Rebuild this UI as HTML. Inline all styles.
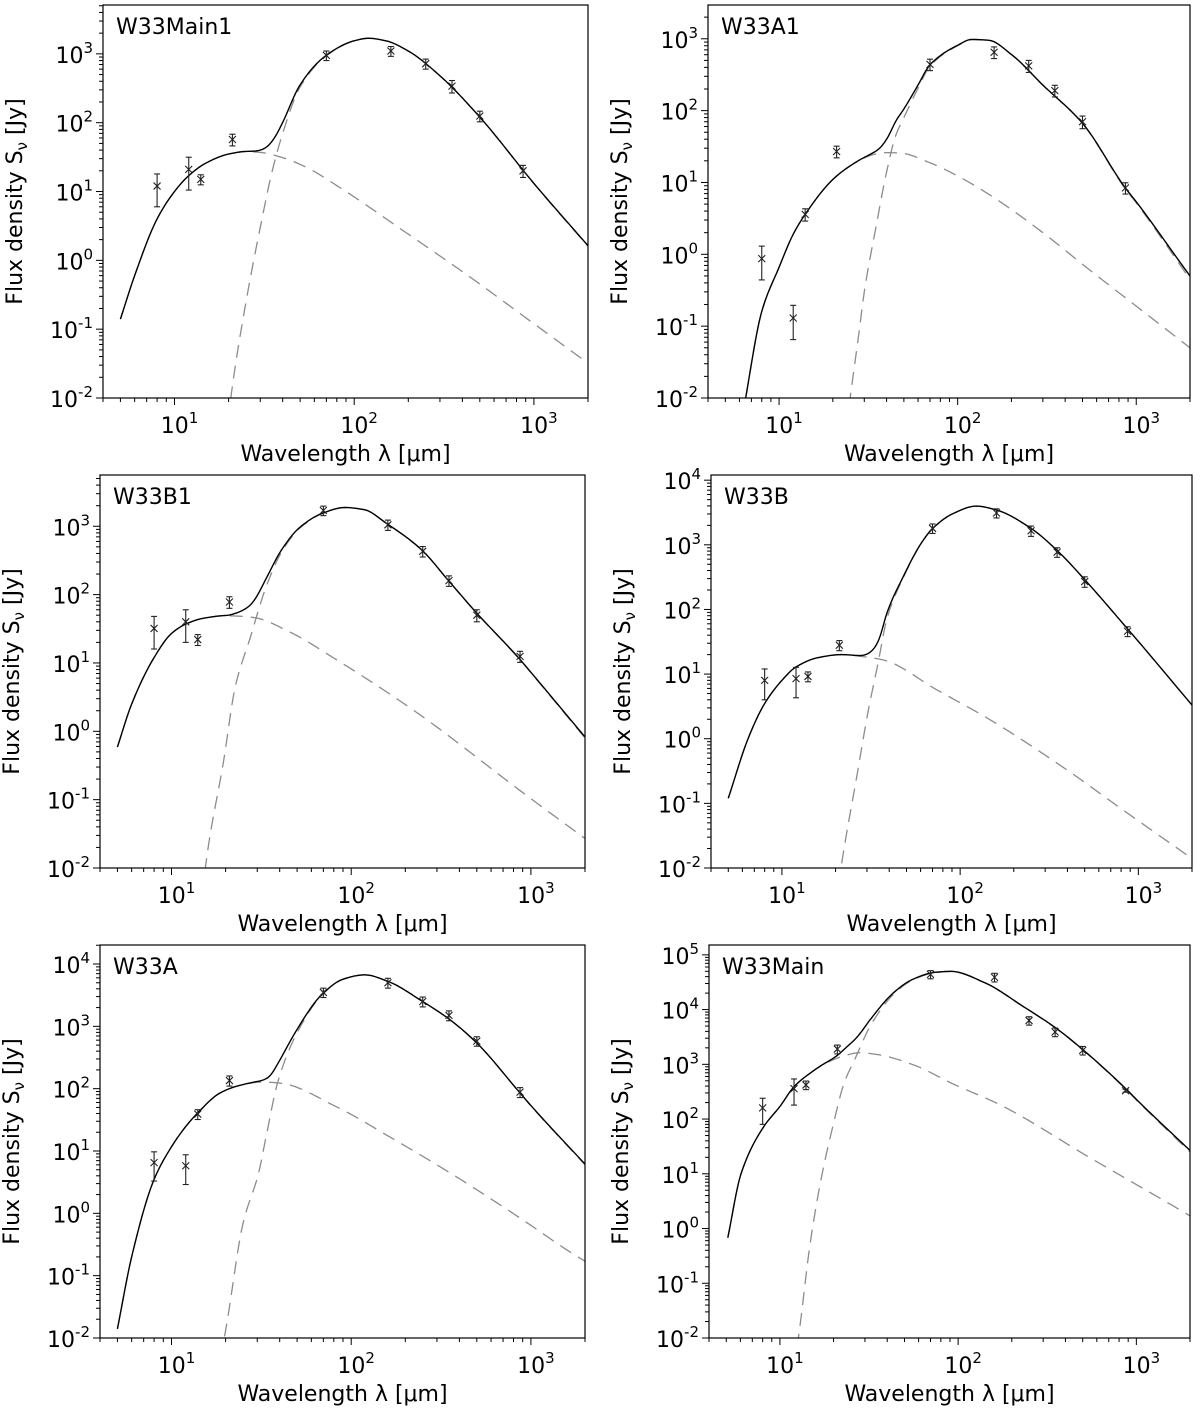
<!DOCTYPE html>
<html><head><meta charset="utf-8">
<style>
html,body{margin:0;padding:0;background:#fff;}
svg{display:block;font-family:"DejaVu Sans","Liberation Sans",sans-serif;}
</style></head>
<body>
<svg id="fig" width="1200" height="1409" viewBox="0 0 1200 1409" xmlns="http://www.w3.org/2000/svg"></svg>
<script>
// ---- shared data ----
const bandLam = [8, 12, 14, 21, 70, 160, 250, 350, 500, 870];
const panelNames = ["W33Main1", "W33A1", "W33B1", "W33B", "W33A", "W33Main"];

// W33Main1
const p1Flux = [12, 21, 15, 57, 950, 1100, 720, 340, 125, 20];
const p1Err = [6, 10.5, 2.5, 11, 150, 180, 120, 70, 22, 4];
const p1WarmLam = [5, 6, 8, 10, 12, 15, 20, 25, 30, 40, 55, 82, 200, 442, 1000, 2000];
const p1WarmFlux = [0.14, 0.6, 4, 10, 17, 26, 35, 38, 37, 31, 22, 11.7, 2.4, 0.57, 0.12, 0.032];
const p1ColdLam = [18, 21, 25, 30, 35, 40, 50, 70, 100, 120, 150, 200, 300, 500, 1000, 2000];
const p1ColdFlux = [0.0005, 0.015, 0.25, 3, 20, 70, 330, 940, 1540, 1680, 1545, 1097, 479, 120, 13, 1.6];

// W33A1
const p2Flux = [0.87, 0.13, 3.6, 27, 440, 650, 420, 190, 70, 8.4];
const p2Err = [0.43, 0.065, 0.7, 5, 80, 120, 80, 35, 14, 1.5];
const p2WarmLam = [5.5, 6.5, 8, 10, 12, 14, 20, 25, 30, 35, 40, 47.5, 70, 100, 146, 200, 300, 551, 1000, 2000];
const p2WarmFlux = [0.0008, 0.01, 0.16, 0.66, 1.9, 3.6, 11, 17, 22, 25, 26, 25.7, 18.8, 12.3, 7.1, 4.2, 2.0, 0.6, 0.19, 0.05];
const p2ColdLam = [22, 25, 28, 30, 35, 40, 45, 50, 60, 70, 100, 120, 150, 200, 300, 500, 870, 1000, 2000];
const p2ColdFlux = [0.0008, 0.01, 0.08, 0.3, 2.5, 14, 45, 80, 205, 415, 800, 970, 945, 600, 225, 66, 8.1, 5.2, 0.45];

// W33B1
const p3Flux = [32, 40, 22, 78, 1700, 1050, 430, 160, 50, 12.5];
const p3Err = [16, 20, 4, 15, 270, 180, 75, 28, 10, 2.3];
const p3WarmLam = [5, 6, 8, 10, 12, 15, 20, 25, 29, 46, 83, 150, 251, 904, 2000];
const p3WarmFlux = [0.59, 2.5, 12, 27, 37, 45, 49, 48, 46, 28, 11.1, 4.1, 1.62, 0.126, 0.027];
const p3ColdLam = [14, 15.8, 19.5, 22.6, 27.5, 33.5, 41, 52, 70, 92, 118, 158, 246, 346, 494, 860, 1000, 2000];
const p3ColdFlux = [0.001, 0.016, 0.37, 4.4, 24, 127, 420, 950, 1555, 1873, 1745, 1087, 453, 162, 55, 11.5, 7.2, 0.8];

// W33B
const p4Flux = [8, 8.5, 9.2, 28, 1800, 3100, 1650, 770, 270, 46];
const p4Err = [4, 4.2, 1.6, 5, 300, 500, 300, 130, 50, 8];
const p4WarmLam = [5, 6.5, 8, 10, 12, 16, 21.6, 29, 36.9, 74, 147, 400, 820, 2000];
const p4WarmFlux = [0.12, 1.05, 3.5, 8, 12.9, 18, 20, 18.5, 16.6, 5.7, 1.97, 0.325, 0.079, 0.014];
const p4ColdLam = [19, 22.1, 26.3, 30.5, 34.5, 39, 47.7, 61, 70, 91, 123, 160, 251, 357, 504, 870, 1000, 2000];
const p4ColdFlux = [0.001, 0.017, 0.26, 2.7, 14, 75, 300, 1090, 1775, 3025, 3965, 3447, 1779, 775, 282, 50, 32, 3.3];

// W33A
const p5Flux = [6.5, 5.8, 39, 135, 3500, 5000, 2500, 1500, 580, 88];
const p5Err = [3.2, 2.9, 7, 25, 600, 900, 450, 270, 100, 16];
const p5WarmLam = [5, 6, 8, 10, 12, 13.9, 18.6, 23.8, 32, 40, 83, 164, 388, 904, 1650, 2000];
const p5WarmFlux = [0.014, 0.2, 3.5, 11.7, 24.7, 40, 85, 112, 128, 123, 51, 16.8, 3.8, 0.78, 0.24, 0.17];
const p5ColdLam = [17, 20.3, 25, 30.5, 33.6, 39, 50, 70, 90.5, 119, 160, 250, 354, 500, 860, 1000, 2000];
const p5ColdFlux = [0.001, 0.017, 0.69, 4.4, 17, 127, 790, 3360, 5695, 6670, 5250, 2490, 1275, 538, 88, 53, 6.0];

// W33Main
const p6Flux = [160, 360, 420, 1900, 44000, 39000, 6300, 3900, 1800, 330];
const p6Err = [80, 180, 75, 350, 7500, 7000, 1100, 700, 320, 20];
const p6WarmLam = [5.1, 6.05, 8.1, 10, 12, 14.7, 17.9, 21.8, 28, 35.6, 56, 94, 172, 550, 1760, 2000];
const p6WarmFlux = [0.68, 10, 72, 170, 390, 680, 1030, 1350, 1630, 1500, 980, 436, 182, 19.6, 2.18, 1.7];
const p6ColdLam = [11.5, 13, 14.7, 17, 19.8, 22.9, 26.5, 32.3, 43.4, 55.5, 74.5, 91, 141, 231, 357, 500, 880, 1000, 2000];
const p6ColdFlux = [0.001, 0.018, 0.47, 7.8, 73, 450, 1300, 5150, 19000, 34600, 47400, 49500, 30750, 11390, 4455, 1840, 341, 223, 25];

// ---- layout (not data) ----
const layout = [
  {l:103, r:588, t:5,   b:398,  ymin:-2, ymax:3.71},
  {l:708, r:1190, t:5,  b:398,  ymin:-2, ymax:3.47},
  {l:100, r:585, t:475, b:868,  ymin:-2, ymax:3.75},
  {l:711, r:1192, t:475, b:868, ymin:-2, ymax:4.08},
  {l:100, r:585, t:945, b:1338, ymin:-2, ymax:4.305},
  {l:709, r:1190, t:945, b:1338, ymin:-2, ymax:5.18}
];
const XMIN = Math.log10(4), XMAX = Math.log10(2000);
const panels = [
  [p1Flux,p1Err,p1WarmLam,p1WarmFlux,p1ColdLam,p1ColdFlux],
  [p2Flux,p2Err,p2WarmLam,p2WarmFlux,p2ColdLam,p2ColdFlux],
  [p3Flux,p3Err,p3WarmLam,p3WarmFlux,p3ColdLam,p3ColdFlux],
  [p4Flux,p4Err,p4WarmLam,p4WarmFlux,p4ColdLam,p4ColdFlux],
  [p5Flux,p5Err,p5WarmLam,p5WarmFlux,p5ColdLam,p5ColdFlux],
  [p6Flux,p6Err,p6WarmLam,p6WarmFlux,p6ColdLam,p6ColdFlux]
];

const NS = "http://www.w3.org/2000/svg";
const svg = document.getElementById("fig");
function mk(tag, attrs, parent){
  const e = document.createElementNS(NS, tag);
  for (const k in attrs) e.setAttribute(k, attrs[k]);
  (parent||svg).appendChild(e);
  return e;
}
// monotone cubic (PCHIP) in log-log space
function makePchip(lams, vals){
  const x = lams.map(Math.log10), y = vals.map(Math.log10), n = x.length;
  const h=[], d=[];
  for (let i=0;i<n-1;i++){ h.push(x[i+1]-x[i]); d.push((y[i+1]-y[i])/h[i]); }
  const m = new Array(n);
  m[0]=d[0]; m[n-1]=d[n-2];
  for (let i=1;i<n-1;i++){
    if (d[i-1]*d[i]<=0) m[i]=0;
    else { const w1=2*h[i]+h[i-1], w2=h[i]+2*h[i-1]; m[i]=(w1+w2)/(w1/d[i-1]+w2/d[i]); }
  }
  return function(lam){
    const t0=Math.log10(lam);
    if (t0<x[0]) return null;
    if (t0>=x[n-1]) return Math.pow(10,y[n-1]);
    let i=0; while (i<n-2 && t0>x[i+1]) i++;
    const t=(t0-x[i])/h[i], t2=t*t, t3=t2*t;
    const v=(2*t3-3*t2+1)*y[i]+(t3-2*t2+t)*h[i]*m[i]+(-2*t3+3*t2)*y[i+1]+(t3-t2)*h[i]*m[i+1];
    return Math.pow(10,v);
  };
}

layout.forEach((L, pi) => {
  const [flux, err, wl, wf, cl, cf] = panels[pi];
  const sx = v => L.l + (Math.log10(v)-XMIN)/(XMAX-XMIN)*(L.r-L.l);
  const sy = v => L.b - (Math.log10(v)-L.ymin)/(L.ymax-L.ymin)*(L.b-L.t);
  const g = mk("g", {});
  
  
  const clipId = "clip"+pi;
  const cp = mk("clipPath", {id:clipId}, g);
  mk("rect", {x:L.l, y:L.t, width:L.r-L.l, height:L.b-L.t}, cp);
  const plot = mk("g", {"clip-path":"url(#"+clipId+")"}, g);
  
  

  const fw = makePchip(wl, wf), fc = makePchip(cl, cf);
  const N = 400;
  const samp = [];
  const a = Math.log10(wl[0]), b = Math.log10(2000);
  for (let k=0;k<=N;k++) samp.push(Math.pow(10, a+(b-a)*k/N));
  function pathFrom(fn){
    let d=""; let started=false;
    samp.forEach(l=>{ const v=fn(l); if (v===null||!(v>0)) return;
      d += (started?" L":"M")+sx(l).toFixed(2)+","+sy(v).toFixed(2); started=true; });
    return d;
  }
  const warm = mk("path", {d:pathFrom(fw), fill:"none", stroke:"#8c8c8c", "stroke-width":1.3, "stroke-dasharray":"13,8"}, plot);
  
  
  const cold = mk("path", {d:pathFrom(fc), fill:"none", stroke:"#8c8c8c", "stroke-width":1.3, "stroke-dasharray":"13,8"}, plot);
  
  
  const tot = mk("path", {d:pathFrom(l=>{ const w=fw(l)||0, c=fc(l)||0; return w+c; }), fill:"none", stroke:"#000", "stroke-width":1.4}, plot);
  
  

  // data points
  bandLam.forEach((l,i)=>{
    const x=sx(l), y=sy(flux[i]);
    const lo = Math.max(flux[i]-err[i], flux[i]*0.01);
    const y1=sy(flux[i]+err[i]), y2=sy(lo);
    const pg = mk("g", {stroke:"#222", "stroke-width":1.1, fill:"none"}, plot);
    
    
    mk("line", {x1:x, y1:y1, x2:x, y2:y2}, pg);
    mk("line", {x1:x-3, y1:y1, x2:x+3, y2:y1}, pg);
    mk("line", {x1:x-3, y1:y2, x2:x+3, y2:y2}, pg);
    mk("line", {x1:x-3.5, y1:y-3.5, x2:x+3.5, y2:y+3.5}, pg);
    mk("line", {x1:x-3.5, y1:y+3.5, x2:x+3.5, y2:y-3.5}, pg);
  });

  const fr = mk("rect", {x:L.l, y:L.t, width:L.r-L.l, height:L.b-L.t, fill:"none", stroke:"#000", "stroke-width":1.2}, g);
  
  

  // x ticks
  const xa = mk("g", {stroke:"#000", "stroke-width":1}, g);
  
  
  for (let e=0;e<=3;e++){
    for (let m=1;m<=9;m++){
      const v=m*Math.pow(10,e);
      if (v<4||v>2000) continue;
      const x=sx(v);
      mk("line", {x1:x, y1:L.b, x2:x, y2:L.b+(m===1?7:4)}, xa);
      if (m===1){
        const t = mk("text", {x:x+5, y:L.b+35, "text-anchor":"middle", "font-size":22, fill:"#000", stroke:"none"}, g);
        
        
        t.textContent="10";
        const s = mk("tspan", {dy:-10, "font-size":15}, t); s.textContent=String(e);
      }
    }
  }
  // y ticks
  const ya = mk("g", {stroke:"#000", "stroke-width":1}, g);
  
  
  for (let e=Math.floor(L.ymin); e<=Math.ceil(L.ymax); e++){
    for (let m=1;m<=9;m++){
      const lv=e+Math.log10(m);
      if (lv<L.ymin-1e-9||lv>L.ymax) continue;
      const y=sy(m*Math.pow(10,e));
      mk("line", {x1:L.l, y1:y, x2:L.l-(m===1?7:4), y2:y}, ya);
      if (m===1){
        const t = mk("text", {x:L.l-10, y:y+9, "text-anchor":"end", "font-size":22, fill:"#000", stroke:"none"}, g);
        
        
        t.textContent="10";
        const s = mk("tspan", {dy:-10, "font-size":15}, t);
        s.textContent = e<0 ? "-"+(-e) : String(e);
      }
    }
  }
  const xt = mk("text", {x:(L.l+L.r)/2, y:L.b+63, "text-anchor":"middle", "font-size":22, fill:"#000"}, g);
  
  
  xt.textContent = "Wavelength λ [μm]";
  const cx = L.l-81, cy=(L.t+L.b)/2;
  const yt = mk("text", {x:cx, y:cy, "text-anchor":"middle", "font-size":22, fill:"#000", transform:"rotate(-90 "+cx+" "+cy+")"}, g);
  
  
  yt.textContent = "Flux density S";
  const sub = mk("tspan", {"font-size":15, dy:5}, yt); sub.textContent="ν";
  const rest = mk("tspan", {dy:-5}, yt); rest.textContent=" [Jy]";
  const pt = mk("text", {x:L.l+13, y:L.t+29, "font-size":22, fill:"#000"}, g);
  
  
  pt.textContent = panelNames[pi];
});
</script>
</body></html>
